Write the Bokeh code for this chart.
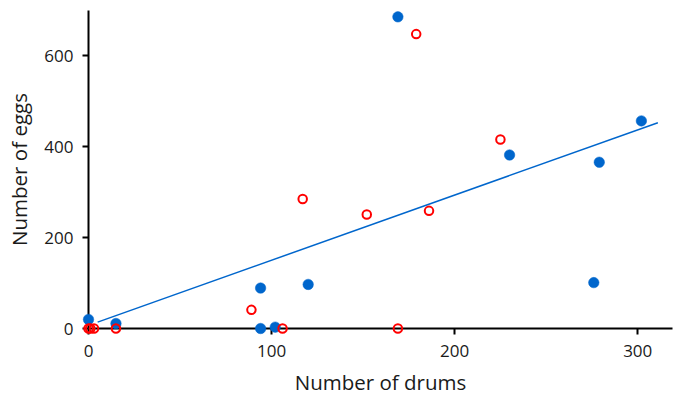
from bokeh.plotting import figure
from bokeh.models import Range1d, FixedTicker
from bokeh.embed import file_html
from bokeh.resources import INLINE

# Data
blue_x = [0, 15, 94, 94, 102, 120, 169, 230, 276, 279, 302]
blue_y = [20, 11, 89, 0, 3, 97, 686, 382, 101, 366, 457]
red_x = [0, 1, 3, 15, 89, 106, 117, 152, 169, 179, 186, 225]
red_y = [0, 0, 0, 0, 41, 0, 285, 251, 0, 648, 259, 416]
trend_x = [5, 311]
trend_y = [14, 453]
x_ticks = [0, 100, 200, 300]
y_ticks = [0, 200, 400, 600]

FONT = "Open Sans"
BLUE = "#0066CC"
RED = "#FF0000"

p = figure(width=680, height=399, output_backend="svg", toolbar_location=None,
           x_range=Range1d(0, 319), y_range=Range1d(0, 700),
           min_border_left=88, min_border_right=8, min_border_top=10,
           min_border_bottom=71)
p.outline_line_color = None
p.grid.grid_line_color = None
p.background_fill_color = "white"
p.border_fill_color = "white"

for ax in (p.xaxis, p.yaxis):
    ax.axis_line_color = "black"
    ax.axis_line_width = 2
    ax.major_tick_line_color = "black"
    ax.major_tick_line_width = 2
    ax.major_tick_out = 6
    ax.major_tick_in = 0
    ax.minor_tick_line_color = None
    ax.major_label_text_font = FONT
    ax.major_label_text_font_size = "17px"
    ax.major_label_text_color = "#1a1a1a"
    ax.axis_label_text_font = FONT
    ax.axis_label_text_font_size = "20.5px"
    ax.axis_label_text_font_style = "normal"
    ax.axis_label_text_color = "#1a1a1a"

p.xaxis.ticker = FixedTicker(ticks=x_ticks)
p.yaxis.ticker = FixedTicker(ticks=y_ticks)
p.xaxis.axis_label = "Number of drums"
p.yaxis.axis_label = "Number of eggs"
p.xaxis.major_label_standoff = 10
p.yaxis.major_label_standoff = 9
p.xaxis.axis_label_standoff = 8
p.yaxis.axis_label_standoff = 8

p.line(trend_x, trend_y, line_color=BLUE, line_width=1.5)
p.scatter(blue_x, blue_y, marker="circle", size=10.5, fill_color=BLUE,
          line_color=BLUE, line_width=0.5, level="overlay")
p.scatter(red_x, red_y, marker="circle", size=8.5, fill_color=None,
          line_color=RED, line_width=2, level="overlay")

open("out.html", "w").write(file_html(p, INLINE))
